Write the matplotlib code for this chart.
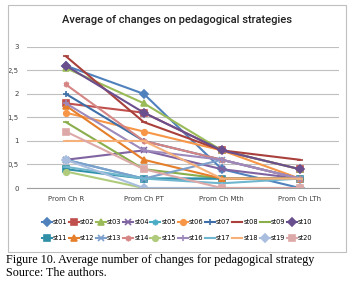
import matplotlib.pyplot as plt
from matplotlib.patches import Rectangle

# categories and values per strategy
categories = ['Prom Ch R', 'Prom Ch PT', 'Prom Ch Mth', 'Prom Ch LTh']
names = [f'st{i:02d}' for i in range(1, 21)]

values = [
    [2.6, 2.0, 0.4, 0.0],    # st01
    [1.8, 1.6, 0.8, 0.4],    # st02
    [2.55, 1.8, 0.8, 0.4],   # st03
    [0.6, 0.8, 0.4, 0.2],    # st04
    [0.6, 0.2, 0.2, 0.2],    # st05
    [1.6, 1.2, 0.8, 0.2],    # st06
    [2.0, 1.0, 0.6, 0.2],    # st07
    [2.8, 1.4, 0.8, 0.6],    # st08
    [1.4, 0.4, 0.2, 0.2],    # st09
    [2.6, 1.6, 0.8, 0.4],    # st10
    [0.4, 0.2, 0.2, 0.2],    # st11
    [1.75, 0.6, 0.2, 0.2],   # st12
    [0.6, 0.2, 0.6, 0.2],    # st13
    [2.2, 1.0, 0.6, 0.2],    # st14
    [0.35, 0.0, 0.0, 0.0],   # st15
    [1.8, 0.8, 0.6, 0.2],    # st16
    [0.45, 0.2, 0.1, 0.2],   # st17
    [1.0, 1.0, 0.2, 0.2],    # st18
    [0.6, 0.0, 0.0, 0.0],    # st19
    [1.2, 0.4, 0.0, 0.0],    # st20
]

colors = ['#4F81BD', '#C0504D', '#9BBB59', '#8064A2', '#4BACC6', '#F79646',
          '#3F6FA8', '#A9403C', '#8AAE4C', '#6A4F8F', '#2F8FA6', '#E57F2B',
          '#7D9FCB', '#D58583', '#AFCB7B', '#9D89BB', '#6FB6CE', '#F6B07A',
          '#A9BEDF', '#DDA9A8']
markers = ['D', 's', '^', 'x', (6, 2, 0), 'o', '+', '_', '_']

fig = plt.figure(figsize=(3.54, 2.84), dpi=100)
fig.patches.append(Rectangle((0.0226, 0.1127), 0.955, 0.87, transform=fig.transFigure,
                             fill=False, edgecolor='#BFBFBF', linewidth=0.8))

ax = fig.add_axes([0.076, 0.338, 0.881, 0.497])
x = list(range(len(categories)))
handles = []
for i, (name, vals) in enumerate(zip(names, values)):
    h, = ax.plot(x, vals, color=colors[i], marker=markers[i % 9], markersize=4,
                 markeredgewidth=1.2, linewidth=1.5, label=name)
    handles.append(h)

ax.set_xlim(-0.5, 3.5)
ax.set_ylim(0, 3)
ax.set_yticks([0, 0.5, 1, 1.5, 2, 2.5, 3])
ax.set_yticklabels(['0', '0,5', '1', '1,5', '2', '2,5', '3'])
ax.set_xticks(x)
ax.set_xticklabels(categories)
ax.tick_params(labelsize=5, length=0, colors='#404040', pad=6)
ax.grid(axis='y', color='#BFBFBF', linewidth=0.8)
ax.set_axisbelow(True)
for s in ['top', 'right', 'left']:
    ax.spines[s].set_visible(False)
ax.spines['bottom'].set_color('#A0A0A0')
ax.spines['bottom'].set_linewidth(0.8)

fig.text(0.5, 0.93, 'Average of changes on pedagogical strategies', ha='center', va='center',
         fontsize=8, family='Roboto', weight='medium', color='#202020')

# legend fills column-wise, so interleave to get two rows of ten
order = [k for j in range(10) for k in (j, j + 10)]
fig.legend([handles[k] for k in order], [names[k] for k in order],
           loc='center', bbox_to_anchor=(0.5, 0.19), ncol=10, fontsize=4.8, frameon=False,
           handlelength=1.5, handletextpad=0.15, columnspacing=0.25, labelspacing=1.5,
           borderpad=0)

fig.text(0.017, 0.085, 'Figure 10. Average number of changes for pedagogical strategy',
         fontsize=8.7, family='Liberation Serif', va='center')
fig.text(0.017, 0.038, 'Source: The authors.', fontsize=8.7, family='Liberation Serif', va='center')

fig.savefig('out.png', dpi=100)
